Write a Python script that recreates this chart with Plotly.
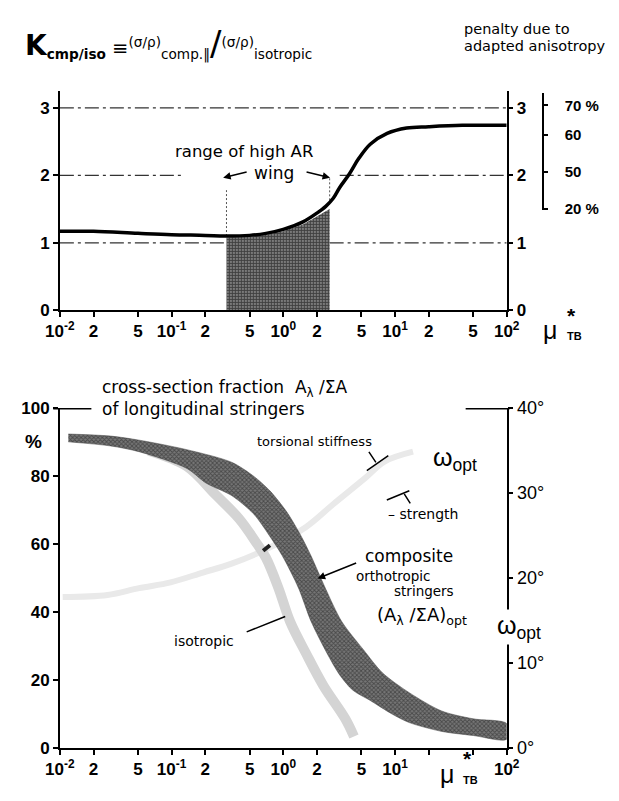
import plotly.graph_objects as go

W, H = 619, 801
FONT = "Liberation Sans"
TFONT = "DejaVu Sans"


def px(x):
    return x / W


def py(y):
    return 1 - y / H


# ---------------- top panel data ----------------
k_mu = [0.01, 0.02, 0.05, 0.1, 0.2, 0.3, 0.5, 0.7, 1.0, 1.5, 2.0, 2.4, 2.8, 3.2, 3.9, 4.7, 6.0, 8.5, 12.7, 20, 40, 100]
k_val = [1.17, 1.17, 1.14, 1.12, 1.11, 1.10, 1.11, 1.14, 1.20, 1.31, 1.44, 1.54, 1.66, 1.82, 2.02, 2.24, 2.46, 2.62, 2.70, 2.72, 2.74, 2.74]

wing_mu = [0.31, 0.5, 0.7, 1.0, 1.5, 2.0, 2.6]
wing_top = [1.08, 1.09, 1.12, 1.17, 1.27, 1.39, 1.50]

ref_level = [1, 1, 2, 2, 3]
ref_from = [0.01, 2.6, 0.01, 3.2, 0.01]
ref_to = [0.31, 100, 0.13, 100, 100]

wing_edge_mu = [0.31, 2.6]
wing_edge_lo = [1.10, 1.57]
wing_edge_hi = [1.78, 1.98]

k_ticks = [0, 1, 2, 3]
pen_pos = [3.035, 2.60, 2.05, 1.503]
pen_text = ["70 %", "60", "50", "20 %"]

tick_mu = [0.01, 0.02, 0.05, 0.1, 0.2, 0.5, 1, 2, 5, 10, 20, 50, 100]
top_tick_text = ["10<sup>-2</sup>", "2", "5", "10<sup>-1</sup>", "2", "5", "10<sup>0</sup>",
                 "2", "5", "10<sup>1</sup>", "2", "5", "10<sup>2</sup>"]
bot_tick_text = ["10<sup>-2</sup>", "2", "5", "10<sup>-1</sup>", "2", "5", "10<sup>0</sup>",
                 "2", "5", "10<sup>1</sup>", "", "", "10<sup>2</sup>"]

# ---------------- bottom panel data ----------------
comp_upper_mu = [0.0119, 0.0284, 0.0512, 0.137, 0.345, 0.543, 0.759, 1.08, 1.45, 1.77, 2.38, 3.32, 5.22, 7.74, 13.4, 26.2, 50.2, 100]
comp_upper_pct = [92.3, 91.7, 90.5, 87.7, 84.0, 79.9, 75.6, 69.3, 62.2, 56.5, 47.0, 37.3, 28.9, 22.1, 16.3, 10.9, 8.6, 7.2]
comp_lower_mu = [100, 50.2, 26.2, 13.4, 9.42, 6.0, 4.2, 3.2, 2.47, 1.77, 1.37, 0.98, 0.759, 0.543, 0.345, 0.203, 0.137, 0.0512, 0.0284, 0.0119]
comp_lower_pct = [2.6, 3.7, 4.9, 7.5, 10.0, 14.0, 17.0, 21.5, 27.8, 37.3, 47.0, 56.5, 62.2, 68.8, 74.2, 77.9, 82.2, 87.1, 88.8, 90.0]

iso_mu = [0.0624, 0.137, 0.247, 0.405, 0.577, 0.70, 0.906, 1.15, 1.60, 2.29, 3.59, 4.29]
iso_pct = [87.4, 82.8, 74.5, 67.3, 60.2, 55.9, 47.0, 37.2, 27.8, 18.3, 8.6, 3.4]

omega_mu = [0.0106, 0.0267, 0.0512, 0.098, 0.191, 0.345, 0.73, 1.60, 2.78, 5.43, 8.05, 14.5]
omega_pct = [44.4, 45.0, 47.0, 48.7, 51.6, 54.2, 58.7, 65.0, 71.6, 79.4, 84.2, 87.1]

blob_mu = [0.66, 0.76]
blob_pct = [58.0, 59.6]

pct_ticks = [0, 20, 40, 60, 80, 100]
deg_ticks = [0, 10, 20, 30, 40]
deg_text = ["0°", "10°", "20°", "30°", "40°"]

fig = go.Figure()

# ---- top panel traces ----
for lv, a, b in zip(ref_level, ref_from, ref_to):
    fig.add_trace(go.Scatter(x=[a, b], y=[lv, lv], mode="lines", xaxis="x", yaxis="y",
                             line=dict(color="#333", width=1.3, dash="14px,4px,3px,4px"),
                             hoverinfo="skip", showlegend=False))
for m, lo, hi in zip(wing_edge_mu, wing_edge_lo, wing_edge_hi):
    fig.add_trace(go.Scatter(x=[m, m], y=[lo, hi], mode="lines", xaxis="x", yaxis="y",
                             line=dict(color="#555", width=1, dash="2px,2px"),
                             hoverinfo="skip", showlegend=False))
fig.add_trace(go.Scatter(x=wing_mu + wing_mu[::-1], y=wing_top + [0] * len(wing_mu),
                         fill="toself", mode="lines", xaxis="x", yaxis="y",
                         line=dict(width=0), fillcolor="#4e4e4e",
                         fillpattern=dict(shape="+", fgcolor="#000", bgcolor="#7a7a7a", size=3, solidity=0.5),
                         hoverinfo="skip", showlegend=False))
fig.add_trace(go.Scatter(x=k_mu, y=k_val, mode="lines", xaxis="x", yaxis="y",
                         line=dict(color="black", width=3.5, shape="spline", smoothing=1.0),
                         hoverinfo="skip", showlegend=False))
fig.add_trace(go.Scatter(x=[1], y=[0], mode="markers", xaxis="x", yaxis="y2",
                         marker=dict(opacity=0), hoverinfo="skip", showlegend=False))
fig.add_trace(go.Scatter(x=[1], y=[2], mode="markers", xaxis="x", yaxis="y3",
                         marker=dict(opacity=0), hoverinfo="skip", showlegend=False))

# ---- bottom panel traces ----
fig.add_trace(go.Scatter(x=omega_mu, y=omega_pct, mode="lines", xaxis="x2", yaxis="y4",
                         line=dict(color="#e9e9e9", width=6, shape="spline"),
                         hoverinfo="skip", showlegend=False))
fig.add_trace(go.Scatter(x=iso_mu, y=iso_pct, mode="lines", xaxis="x2", yaxis="y4",
                         line=dict(color="#d4d4d4", width=10, shape="spline"),
                         hoverinfo="skip", showlegend=False))
fig.add_trace(go.Scatter(x=comp_upper_mu + comp_lower_mu, y=comp_upper_pct + comp_lower_pct,
                         fill="toself", mode="lines", xaxis="x2", yaxis="y4",
                         line=dict(width=0.5, color="#444", shape="spline", smoothing=0.8),
                         fillcolor="#505050",
                         fillpattern=dict(shape="x", fgcolor="#1a1a1a", bgcolor="#777777", size=3, solidity=0.5),
                         hoverinfo="skip", showlegend=False))
fig.add_trace(go.Scatter(x=blob_mu, y=blob_pct, mode="lines", xaxis="x2", yaxis="y4",
                         line=dict(color="#222", width=4),
                         hoverinfo="skip", showlegend=False))
fig.add_trace(go.Scatter(x=[1], y=[0], mode="markers", xaxis="x2", yaxis="y5",
                         marker=dict(opacity=0), hoverinfo="skip", showlegend=False))

tickfont = dict(family=FONT, size=17, color="black", weight="bold")
axis_common = dict(showgrid=False, zeroline=False, showline=True, linecolor="black",
                   linewidth=1.5, ticks="outside", ticklen=5, tickwidth=1.5, tickcolor="black",
                   tickfont=tickfont)

fig.update_layout(
    width=W, height=H, margin=dict(l=0, r=0, t=0, b=0),
    paper_bgcolor="white", plot_bgcolor="rgba(0,0,0,0)", showlegend=False,
    font=dict(family=FONT, color="black"),
    xaxis=dict(domain=[px(47), px(515)], type="log", range=[-2, 2], anchor="y",
               tickvals=tick_mu, ticktext=top_tick_text, **axis_common),
    yaxis=dict(domain=[py(308), py(83)], range=[0, 3.25], anchor="x",
               tickvals=k_ticks, **axis_common),
    yaxis2=dict(domain=[py(308), py(83)], range=[0, 3.25], anchor="x", overlaying="y", side="right",
                tickvals=k_ticks, **axis_common),
    yaxis3=dict(domain=[py(205), py(85)], range=[1.488, 3.222], anchor="free", position=px(553),
                side="right", tickvals=pen_pos, ticktext=pen_text, ticklabelstandoff=14,
                **{**axis_common, "ticklen": 4,
                   "tickfont": dict(family=FONT, size=15, color="black", weight="bold")}),
    xaxis2=dict(domain=[px(47), px(515)], type="log", range=[-2, 2], anchor="y4",
                tickvals=tick_mu, ticktext=bot_tick_text, **axis_common),
    yaxis4=dict(domain=[py(757), py(408)], range=[0, 100], anchor="x2",
                tickvals=pct_ticks, **axis_common),
    yaxis5=dict(domain=[py(757), py(408)], range=[0, 40], anchor="x2", overlaying="y4", side="right",
                tickvals=deg_ticks, ticktext=deg_text,
                **{**axis_common, "tickfont": dict(family=FONT, size=18, color="black")}),
)

shapes = [
    dict(type="line", xref="paper", yref="paper", x0=px(40), x1=px(80), y0=py(409), y1=py(409),
         line=dict(color="black", width=1.5)),
    dict(type="line", xref="paper", yref="paper", x0=px(472), x1=px(518), y0=py(409), y1=py(409),
         line=dict(color="black", width=1.5)),
]
fig.update_layout(shapes=shapes)


def txt(x, y, text, size, xanchor="left", weight="normal", bg=None, family=TFONT):
    d = dict(x=px(x), y=py(y), xref="paper", yref="paper", text=text, showarrow=False,
             xanchor=xanchor, yanchor="middle", align="left",
             font=dict(family=family, size=size, color="black", weight=weight))
    if bg:
        d["bgcolor"] = bg
    return d


def leader(x1, y1, x0, y0, head=0, width=1.5):
    return dict(x=px(x1), y=py(y1), xref="paper", yref="paper", text="", showarrow=True,
                ax=x0 - x1, ay=y0 - y1, axref="pixel", ayref="pixel",
                arrowhead=head, arrowsize=1, arrowwidth=width, arrowcolor="black")


title = ("<span style='font-size:28px'><b>K</b></span><sub><b>cmp/iso</b></sub> ≡<sup>(σ/ρ)</sup>"
         "<sub>comp.‖</sub><span style='font-size:34px'>/</span><sup>(σ/ρ)</sup><sub>isotropic</sub>")

ann = [
    txt(8, 34, title, 19.5, weight="normal"),
    txt(468, 19, "penalty due to", 14.5),
    txt(468, 37, "adapted anisotropy", 14.5),
    txt(240, 145, "range of high AR", 16.5, xanchor="center"),
    txt(271, 167, "wing", 17, xanchor="center"),
    leader(218, 172, 243, 166, head=2),
    leader(330, 172, 305, 166, head=2),
    txt(551, 328, "μ", 25, family=FONT),
    txt(576, 313, "*", 21, weight="bold", family=FONT),
    txt(576, 334, "TB", 11, weight="bold", family=FONT),
    txt(89, 388, "cross-section fraction  A<sub>λ</sub> /ΣA", 17),
    txt(89, 409, "of longitudinal stringers", 17),
    txt(8, 443, "%", 19, weight="bold", family=FONT),
    txt(251, 443, "torsional stiffness", 13),
    txt(436, 460, "ω<sub>opt</sub>", 25, family=FONT),
    leader(391, 457, 368, 473),
    leader(378, 464, 370, 452),
    txt(389, 517, "– strength", 14),
    leader(413, 493, 389, 503),
    leader(414, 506, 407, 495),
    txt(365, 560, "composite", 17),
    leader(317, 583, 357, 567, head=2),
    txt(355, 580, "orthotropic", 13.5),
    txt(395, 596, "stringers", 13.5),
    txt(377, 622, "(A<sub>λ</sub> /ΣA)<sub>opt</sub>", 18),
    txt(503, 633, "ω<sub>opt</sub>", 25, bg="white", family=FONT),
    txt(164, 647, "isotropic", 14),
    leader(283, 622, 243, 638),
    txt(443, 784, "μ", 25, family=FONT),
    txt(467, 768, "*", 21, weight="bold", family=FONT),
    txt(467, 790, "TB", 11, weight="bold", family=FONT),
]
fig.update_layout(annotations=ann)

fig.write_html("out.html")
